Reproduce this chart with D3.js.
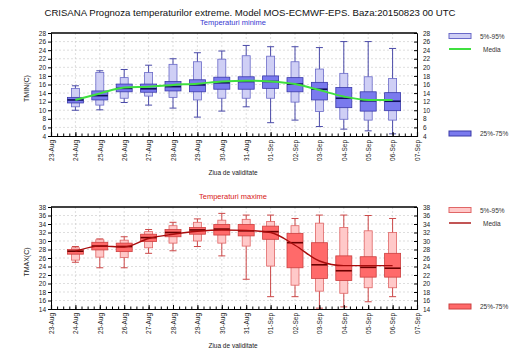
<!DOCTYPE html>
<html>
<head>
<meta charset="utf-8">
<script src="https://cdn.jsdelivr.net/npm/d3@7"></script>
<style>
  body { margin: 0; background: #fff; }
  svg { font-family: "Liberation Sans", Arial, sans-serif; }
</style>
</head>
<body>
<div id="chart"></div>
<script>
// Data (days 24-Aug .. 06-Sep 2015)
const axisDays = ['2015-08-23', '2015-08-24', '2015-08-25', '2015-08-26', '2015-08-27', '2015-08-28', '2015-08-29',
    '2015-08-30', '2015-08-31', '2015-09-01', '2015-09-02', '2015-09-03', '2015-09-04', '2015-09-05',
    '2015-09-06', '2015-09-07'];
const boxDays = axisDays.slice(1, 15);

const tminHi = [15.7, 19.2, 19.5, 20.5, 22.0, 23.4, 23.8, 25.1, 24.8, 24.8, 24.6, 26.0, 26.0, 24.4];
const tminP95 = [15.1, 18.8, 17.6, 18.8, 20.7, 21.3, 21.9, 22.7, 22.6, 21.3, 19.6, 18.6, 17.8, 17.4];
const tminP75 = [13.0, 14.5, 16.1, 16.1, 16.7, 17.1, 17.7, 17.8, 18.0, 17.6, 16.5, 15.3, 14.3, 14.1];
const tminMed = [12.4, 13.4, 15.1, 15.0, 15.5, 15.9, 16.4, 16.7, 16.7, 16.1, 14.9, 12.8, 12.2, 12.1];
const tminP25 = [11.7, 12.4, 14.3, 14.2, 14.5, 14.3, 14.9, 14.9, 15.1, 14.3, 12.4, 10.6, 9.8, 9.9];
const tminP5 = [10.8, 11.2, 12.8, 13.3, 13.0, 12.4, 12.8, 12.8, 12.8, 11.9, 9.7, 7.9, 7.7, 7.7];
const tminLo = [10.0, 10.1, 11.8, 11.2, 10.5, 8.4, 9.8, 10.8, 7.1, 7.7, 6.2, 5.6, 5.2, 4.5];
const tminMean = [12.4, 13.9, 15.3, 15.5, 15.9, 16.2, 16.7, 16.9, 16.7, 16.1, 14.7, 13.2, 12.4, 12.4];

const tmaxHi = [28.7, 30.5, 31.0, 32.7, 34.4, 35.2, 36.5, 36.1, 36.1, 35.3, 36.1, 36.1, 36.0, 35.3];
const tmaxP95 = [28.4, 30.3, 30.2, 32.2, 33.6, 34.4, 34.9, 35.1, 34.6, 33.6, 34.2, 33.2, 32.4, 32.0];
const tmaxP75 = [28.0, 29.7, 29.5, 31.6, 32.7, 33.2, 33.9, 33.9, 33.5, 31.8, 29.6, 26.5, 26.3, 27.1];
const tmaxMed = [27.6, 28.8, 28.7, 30.8, 32.0, 32.6, 32.8, 32.4, 32.2, 29.6, 24.4, 23.0, 23.8, 23.6];
const tmaxP25 = [26.9, 27.9, 27.5, 29.9, 31.0, 31.6, 31.4, 31.2, 30.4, 23.7, 21.2, 20.7, 21.5, 21.5];
const tmaxP5 = [25.5, 26.2, 26.1, 28.4, 29.5, 30.0, 29.5, 28.8, 24.1, 19.6, 18.2, 17.7, 19.0, 19.0];
const tmaxLo = [25.0, 23.7, 23.7, 27.1, 27.7, 28.7, 26.5, 21.0, 16.9, 16.9, 14.2, 14.5, 15.7, 16.9];
const tmaxMean = [27.6, 28.8, 28.6, 30.6, 31.6, 32.3, 32.6, 32.5, 32.0, 29.0, 25.3, 24.2, 24.2, 24.2];

const tminTicks = d3.range(4, 29, 2);
const tmaxTicks = d3.range(14, 39, 2);

const W = 525, H = 350;
const svg = d3.select('#chart').append('svg')
    .attr('width', W)
    .attr('height', H);

const parseDay = d3.utcParse('%Y-%m-%d');
const fmtDay = d3.utcFormat('%d-%b');

// main title
svg.append('text')
    .attr('x', 250).attr('y', 16)
    .attr('text-anchor', 'middle')
    .attr('font-size', 9.6)
    .attr('fill', '#111')
    .text('CRISANA  Prognoza temperaturilor extreme.  Model MOS-ECMWF-EPS. Baza:20150823 00 UTC');

function drawPanel(opt) {
    const x = d3.scaleUtc()
        .domain([parseDay(axisDays[0]), parseDay(axisDays[axisDays.length - 1])])
        .range([51, 417]);
    const y = d3.scaleLinear()
        .domain([opt.ticks[0], opt.ticks[opt.ticks.length - 1]])
        .range([opt.bottom, opt.top]);

    const g = svg.append('g');

    // subtitle
    g.append('text')
        .attr('x', 233).attr('y', opt.top - 8)
        .attr('text-anchor', 'middle')
        .attr('font-size', 7.5)
        .attr('fill', opt.titleColor)
        .text(opt.title);

    // grid
    g.append('g').selectAll('line.h')
        .data(opt.ticks.slice(1, -1))
        .enter().append('line')
        .attr('x1', 51).attr('x2', 417)
        .attr('y1', d => y(d)).attr('y2', d => y(d))
        .attr('stroke', '#c8c8c8').attr('stroke-width', 0.6)
        .attr('stroke-dasharray', '2,2');
    g.append('g').selectAll('line.v')
        .data(axisDays.slice(1, -1))
        .enter().append('line')
        .attr('x1', d => x(parseDay(d))).attr('x2', d => x(parseDay(d)))
        .attr('y1', opt.top).attr('y2', opt.bottom)
        .attr('stroke', '#c8c8c8').attr('stroke-width', 0.6)
        .attr('stroke-dasharray', '2,2');

    const c = opt.colors;
    const boxes = g.append('g').selectAll('g')
        .data(boxDays.map((d, i) => ({
            t: parseDay(d), hi: opt.hi[i], p95: opt.p95[i], p75: opt.p75[i], med: opt.med[i],
            p25: opt.p25[i], p5: opt.p5[i], lo: opt.lo[i]
        })))
        .enter().append('g')
        .attr('transform', d => 'translate(' + x(d.t) + ',0)');

    // whiskers
    boxes.append('line')
        .attr('y1', d => y(d.hi)).attr('y2', d => y(d.lo))
        .attr('stroke', c.whisker).attr('stroke-width', 1);
    boxes.append('line')
        .attr('x1', -3.5).attr('x2', 3.5)
        .attr('y1', d => y(d.hi)).attr('y2', d => y(d.hi))
        .attr('stroke', c.whisker).attr('stroke-width', 1);
    boxes.append('line')
        .attr('x1', -3.5).attr('x2', 3.5)
        .attr('y1', d => y(d.lo)).attr('y2', d => y(d.lo))
        .attr('stroke', c.whisker).attr('stroke-width', 1);
    // 5-95 box
    boxes.append('rect')
        .attr('x', -4).attr('width', 8)
        .attr('y', d => y(d.p95)).attr('height', d => y(d.p5) - y(d.p95))
        .attr('fill', c.outer).attr('stroke', c.outerStroke).attr('stroke-width', 0.8);
    // 25-75 box
    boxes.append('rect')
        .attr('x', -8).attr('width', 16)
        .attr('y', d => y(d.p75)).attr('height', d => y(d.p25) - y(d.p75))
        .attr('fill', c.inner).attr('stroke', c.innerStroke).attr('stroke-width', 0.8);
    // median
    boxes.append('line')
        .attr('x1', -8).attr('x2', 8)
        .attr('y1', d => y(d.med)).attr('y2', d => y(d.med))
        .attr('stroke', c.median).attr('stroke-width', 1.6);

    // mean curve
    const line = d3.line()
        .x((d, i) => x(parseDay(boxDays[i])))
        .y(d => y(d))
        .curve(d3.curveMonotoneX);
    g.append('path')
        .datum(opt.mean)
        .attr('d', line)
        .attr('fill', 'none')
        .attr('stroke', c.mean)
        .attr('stroke-width', c.meanWidth);

    // axes
    const yLeft = g.append('g')
        .attr('transform', 'translate(51,0)')
        .call(d3.axisLeft(y).tickValues(opt.ticks).tickSize(3).tickPadding(2));
    const yRight = g.append('g')
        .attr('transform', 'translate(417,0)')
        .call(d3.axisRight(y).tickValues(opt.ticks).tickSize(-3).tickPadding(6));
    [yLeft, yRight].forEach(a => {
        a.selectAll('text').attr('font-size', 6.5).attr('fill', '#222');
        a.select('.domain').attr('stroke', '#000');
    });

    // minor ticks on the date axis
    g.append('g')
        .attr('transform', 'translate(0,' + opt.bottom + ')')
        .call(d3.axisBottom(x).ticks(d3.utcHour.every(6)).tickSize(-2.5).tickFormat(''))
        .select('.domain').remove();
    const xAxis = g.append('g')
        .attr('transform', 'translate(0,' + opt.bottom + ')')
        .call(d3.axisBottom(x)
            .tickValues(axisDays.map(parseDay))
            .tickSize(-4)
            .tickFormat(fmtDay));
    xAxis.select('.domain').attr('stroke', '#000').attr('stroke-width', 1.2);
    xAxis.selectAll('text')
        .attr('font-size', 6.5).attr('fill', '#222')
        .attr('text-anchor', 'end')
        .attr('transform', 'rotate(-90)')
        .attr('x', -4).attr('y', 0).attr('dy', '0.35em');

    // frame top
    g.append('line')
        .attr('x1', 51).attr('x2', 417)
        .attr('y1', opt.top).attr('y2', opt.top)
        .attr('stroke', '#000').attr('stroke-width', 1.6);

    // axis titles
    g.append('text')
        .attr('transform', 'translate(29,' + ((opt.top + opt.bottom) / 2 + 4) + ') rotate(-90)')
        .attr('text-anchor', 'middle')
        .attr('font-size', 7)
        .attr('fill', '#222')
        .text(opt.yLabel);
    g.append('text')
        .attr('x', 233).attr('y', opt.bottom + 39)
        .attr('text-anchor', 'middle')
        .attr('font-size', 6.5)
        .attr('fill', '#222')
        .text('Ziua de validitate');

    // legend
    const lg = g.append('g');
    lg.append('rect')
        .attr('x', 449).attr('y', opt.top + 0.5).attr('width', 22).attr('height', 5)
        .attr('fill', c.outer).attr('stroke', c.outerStroke).attr('stroke-width', 1);
    lg.append('text')
        .attr('x', 480).attr('y', opt.top + 5.5)
        .attr('font-size', 6.5).attr('fill', '#333')
        .text('5%-95%');
    lg.append('line')
        .attr('x1', 449).attr('x2', 471)
        .attr('y1', opt.top + 16).attr('y2', opt.top + 16)
        .attr('stroke', c.mean).attr('stroke-width', c.meanWidth);
    lg.append('text')
        .attr('x', 483).attr('y', opt.top + 18.5)
        .attr('font-size', 6.5).attr('fill', '#333')
        .text('Media');
    lg.append('rect')
        .attr('x', 449).attr('y', opt.bottom - 5).attr('width', 22).attr('height', 5)
        .attr('fill', c.inner).attr('stroke', c.innerStroke).attr('stroke-width', 1);
    lg.append('text')
        .attr('x', 480).attr('y', opt.bottom)
        .attr('font-size', 6.5).attr('fill', '#333')
        .text('25%-75%');
}

drawPanel({
    top: 33, bottom: 136, ticks: tminTicks,
    title: 'Temperaturi minime', titleColor: '#3a3ad0', yLabel: 'TMIN(C)',
    hi: tminHi, p95: tminP95, p75: tminP75, med: tminMed, p25: tminP25, p5: tminP5, lo: tminLo, mean: tminMean,
    colors: {
        whisker: '#4a4aa8', outer: '#cfcff5', outerStroke: '#6a6ac8',
        inner: '#7a7aee', innerStroke: '#3a3aa8', median: '#10105a',
        mean: '#3fe03f', meanWidth: 2
    }
});

drawPanel({
    top: 207, bottom: 309, ticks: tmaxTicks,
    title: 'Temperaturi maxime', titleColor: '#d82020', yLabel: 'TMAX(C)',
    hi: tmaxHi, p95: tmaxP95, p75: tmaxP75, med: tmaxMed, p25: tmaxP25, p5: tmaxP5, lo: tmaxLo, mean: tmaxMean,
    colors: {
        whisker: '#cc4848', outer: '#ffc9c9', outerStroke: '#e06666',
        inner: '#ff6a6a', innerStroke: '#cc4040', median: '#6a0000',
        mean: '#a80c0c', meanWidth: 1.4
    }
});
</script>
</body>
</html>
